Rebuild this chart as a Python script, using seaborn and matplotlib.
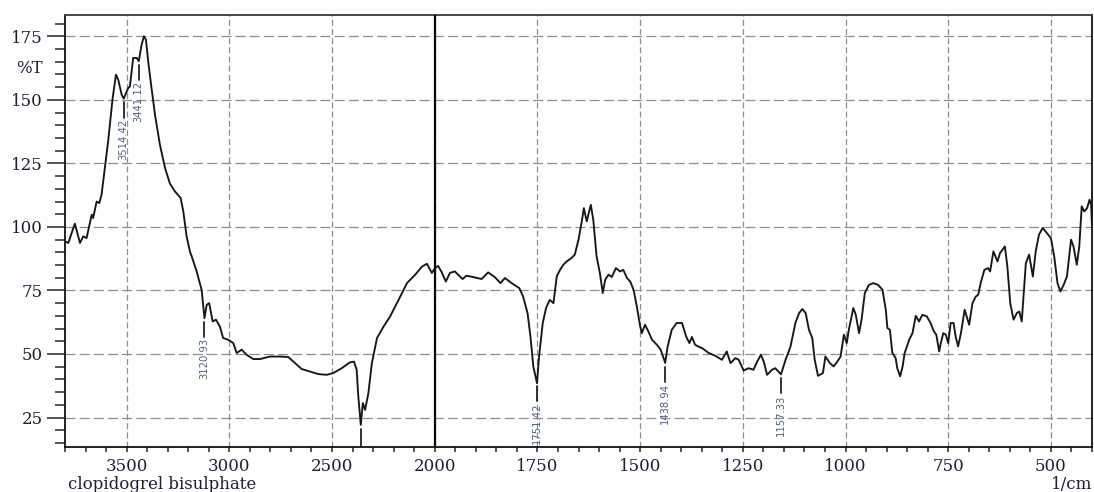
import numpy as np
import pandas as pd
import matplotlib
matplotlib.use("Agg")
import matplotlib.pyplot as plt
import seaborn as sns
from matplotlib.ticker import FixedLocator, NullFormatter

# IR spectrum of clopidogrel bisulphate (wavenumber in 1/cm, transmittance in %T)
wavenumber = [
    3800, 3784, 3752, 3727, 3711, 3695, 3670, 3663, 3646, 3633, 3622, 3606, 3590,
    3568, 3552, 3541, 3524, 3514, 3492, 3484, 3468, 3451, 3441, 3427, 3416, 3406,
    3395, 3383, 3362, 3338, 3313, 3289, 3265, 3237, 3224, 3208, 3192, 3183, 3159,
    3135, 3121, 3110, 3098, 3081, 3065, 3046, 3030, 3005, 2981, 2964, 2940, 2916,
    2883, 2851, 2802, 2753, 2713, 2680, 2648, 2607, 2567, 2526, 2494, 2453, 2413,
    2393, 2380, 2372, 2360, 2350, 2339, 2323, 2306, 2281, 2249, 2217, 2176, 2135,
    2095, 2062, 2038, 2014, 2000,
    1992, 1984, 1973, 1963, 1951, 1943, 1932, 1923, 1907, 1886, 1870, 1854, 1840,
    1829, 1813, 1794, 1785, 1774, 1767, 1760, 1751, 1746, 1737, 1729, 1720, 1711,
    1703, 1695, 1687, 1679, 1667, 1659, 1650, 1642, 1637, 1630, 1620, 1614, 1606,
    1598, 1591, 1585, 1577, 1569, 1559, 1549, 1541, 1532, 1524, 1516, 1508, 1500,
    1496, 1488, 1480, 1471, 1459, 1450, 1439, 1433, 1423, 1411, 1398, 1388, 1380,
    1374, 1366, 1358, 1349, 1333, 1317, 1301, 1289, 1280, 1268, 1260, 1248, 1236,
    1224, 1215, 1206, 1199, 1191, 1179, 1171, 1157, 1146, 1134, 1122, 1113, 1105,
    1097, 1089, 1081, 1075, 1067, 1055, 1049, 1038, 1029, 1020, 1012, 1004, 997,
    992, 981, 975, 967, 961, 953, 943, 932, 921, 910, 902, 898, 892, 886, 878, 874,
    867, 861, 856, 845, 837, 829, 821, 813, 802, 793, 785, 779, 772, 768, 762, 756,
    750, 744, 737, 732, 726, 719, 710, 699, 691, 683, 677, 671, 662, 653, 648, 640,
    630, 624, 612, 606, 599, 591, 583, 577, 571, 566, 561, 553, 544, 537, 529, 520,
    510, 500, 492, 484, 477, 469, 461, 451, 445, 437, 431, 425, 419, 412, 406, 402,
    400,
]
transmittance = [
    94.3, 93.7, 101.3, 93.7, 96.3, 95.6, 104.8, 103.5, 110.0, 109.4, 112.7, 123.2, 133.7,
    150.7, 159.9, 158.0, 152.0, 150.5, 154.7, 155.3, 166.5, 166.5, 165.2, 171.7, 175.0, 173.7,
    165.2, 157.3, 144.2, 132.4, 123.2, 117.0, 114.0, 111.4, 106.1, 96.3, 90.4, 88.4, 82.5,
    75.3, 64.1, 69.4, 70.0, 62.8, 63.5, 60.8, 56.3, 55.6, 54.3, 50.4, 51.7, 49.7,
    48.0, 48.0, 49.0, 49.0, 48.8, 46.4, 44.1, 43.1, 42.1, 41.8, 42.5, 44.4, 46.7,
    47.0, 43.8, 33.3, 22.1, 30.7, 28.0, 34.6, 46.4, 56.3, 60.8, 64.8, 71.3, 77.9,
    81.2, 84.4, 85.5, 81.9, 83.6,
    84.7, 82.5, 78.5, 81.9, 82.5, 81.2, 79.5, 80.8, 80.3, 79.5, 82.1, 80.3, 77.9,
    79.9, 77.9, 75.9, 72.7, 66.1, 56.9, 45.1, 38.5, 49.0, 62.2, 68.1, 71.3, 70.0,
    80.5, 83.1, 85.1, 86.4, 87.8, 89.1, 95.0, 102.2, 107.4, 102.2, 108.7, 102.8, 88.4,
    81.9, 74.0, 79.2, 81.2, 80.3, 83.8, 82.5, 83.1, 79.9, 78.5, 75.3, 68.7, 61.0,
    58.2, 61.5, 58.9, 55.6, 53.6, 51.7, 46.5, 52.9, 59.5, 62.2, 62.2, 56.9, 54.3,
    56.7, 53.6, 52.9, 52.3, 50.4, 49.3, 47.7, 51.0, 46.4, 48.4, 47.7, 43.5, 44.4,
    43.8, 47.0, 49.7, 47.0, 41.8, 43.8, 44.4, 42.0, 47.7, 52.9, 62.2, 66.1, 67.7,
    66.1, 59.5, 56.3, 47.7, 41.4, 42.5, 49.0, 46.4, 45.1, 47.0, 49.0, 57.6, 54.3,
    59.5, 68.1, 65.4, 58.2, 63.5, 74.0, 77.2, 77.9, 77.2, 75.3, 67.4, 60.2, 59.5, 50.4, 48.4, 44.4,
    41.2, 45.1, 50.4, 55.6, 58.2, 65.0, 62.8, 65.4, 64.8, 62.2, 58.9, 57.6, 51.0, 54.3, 58.2, 57.6,
    54.3, 62.2, 62.2, 56.9, 53.0, 58.2, 67.4, 61.5, 70.0, 72.6, 73.3, 77.9, 83.1, 83.8, 82.5, 90.4,
    86.4, 89.7, 92.3, 84.4, 70.0, 63.5, 66.1, 66.7, 62.8, 74.0, 85.8, 89.1, 80.5, 90.4, 97.0, 99.6,
    97.6, 95.6, 88.4, 77.9, 74.6, 77.2, 80.5, 95.0, 92.3, 85.1, 92.3, 108.1, 106.1, 107.4, 110.7, 108.7,
    100.0,
]

# Labelled absorption bands and one unlabelled band marker
peak_labels = ["3514.42", "3441.12", "3120.93", "1751.42", "1438.94", "1157.33"]
unlabelled_bands = [2360]

y_major = [25, 50, 75, 100, 125, 150, 175]
x_major = [3500, 3000, 2500, 2000, 1750, 1500, 1250, 1000, 750, 500]
x_minor_high = list(range(3800, 2000, -100))
x_minor_low = list(range(2000, 399, -50))

sample_name = "clopidogrel bisulphate"
x_unit = "1/cm"
y_unit = "%T"

sns.set_style("white")
plt.rcParams["font.family"] = ["DejaVu Serif"]
plt.rcParams["lines.scale_dashes"] = False

ink = "#1d1d38"
label_ink = "#50607f"

W, H = 1094, 492
fig, ax = plt.subplots(figsize=(W / 100, H / 100), dpi=100)
fig.subplots_adjust(left=65 / W, right=1092 / W, top=1 - 15 / H, bottom=1 - 447 / H)

df = pd.DataFrame({"wavenumber": wavenumber, "T": transmittance})
sns.lineplot(data=df, x="wavenumber", y="T", ax=ax, color="#161616", lw=1.35,
             sort=False, estimator=None)


# Above 2000 1/cm the axis is compressed by a factor of two
def fwd(x):
    x = np.asarray(x, dtype=float)
    return np.where(x > 2000, 2000 + (x - 2000) * 0.5, x)


def inv(t):
    t = np.asarray(t, dtype=float)
    return np.where(t > 2000, 2000 + (t - 2000) * 2.0, t)


ax.set_xscale("function", functions=(fwd, inv))
ax.set_xlim(3800, 400)
ax.set_ylim(13.4, 183.4)

ax.xaxis.set_major_locator(FixedLocator(x_major))
ax.xaxis.set_minor_locator(FixedLocator(sorted(set(x_minor_high + x_minor_low) - set(x_major))))
ax.xaxis.set_minor_formatter(NullFormatter())
ax.set_xticklabels([str(v) for v in x_major])
ax.yaxis.set_major_locator(FixedLocator(y_major))
ax.yaxis.set_minor_locator(FixedLocator([v for v in range(15, 181, 5) if v not in y_major]))
ax.set_yticklabels([str(v) for v in y_major])

ax.tick_params(axis="y", which="major", direction="out", length=13, width=1.1,
               pad=3, labelsize=12, labelcolor=ink, left=True)
ax.tick_params(axis="y", which="minor", direction="out", length=7.2, width=1.1, left=True)
ax.tick_params(axis="x", which="both", direction="out", length=3.8, width=1.1, bottom=True)
ax.tick_params(axis="x", which="major", pad=4, labelsize=12, labelcolor=ink)

ax.yaxis.grid(True, which="major", color="#8e8e8e", lw=0.9, linestyle=(0, (7.2, 3.0)))
ax.xaxis.grid(True, which="major", color="#8e8e8e", lw=0.9, linestyle=(0, (4.3, 2.3)))
ax.set_axisbelow(True)

for side, sp in ax.spines.items():
    sp.set_visible(True)
    sp.set_color("#111111" if side != "top" else "#3a3a3a")
    sp.set_linewidth(1.3)

ax.axvline(2000, color="#0a0a0a", lw=1.6, zorder=3)

ax.set_xlabel("")
ax.set_ylabel("")

wn_arr = np.array(wavenumber, dtype=float)
tr_arr = np.array(transmittance, dtype=float)


def value_at(w):
    return np.interp(w, wn_arr[::-1], tr_arr[::-1])


for lab in peak_labels:
    w = float(lab)
    v = value_at(w)
    ax.plot([w, w], [v - 1.5, v - 7.5], color="#222222", lw=1.3, zorder=4)
    ax.text(w, v - 7.9, lab, rotation=90, ha="center", va="top", fontsize=7.2,
            family="DejaVu Sans", color=label_ink, zorder=4)

for w in unlabelled_bands:
    v = value_at(w)
    ax.plot([w, w], [v - 1.5, ax.get_ylim()[0]], color="#222222", lw=1.3, zorder=4)

ax.annotate(y_unit, xy=(0, 0.877), xycoords="axes fraction", xytext=(-16, 0),
            textcoords="offset points", ha="right", va="center", fontsize=12, color=ink)

fig.text(68 / W, 1 - 489 / H, sample_name, ha="left", va="baseline", fontsize=12,
         color=ink)
fig.text(1092 / W, 1 - 489 / H, x_unit, ha="right", va="baseline", fontsize=12,
         color=ink)

fig.savefig("out.png", dpi=100)
